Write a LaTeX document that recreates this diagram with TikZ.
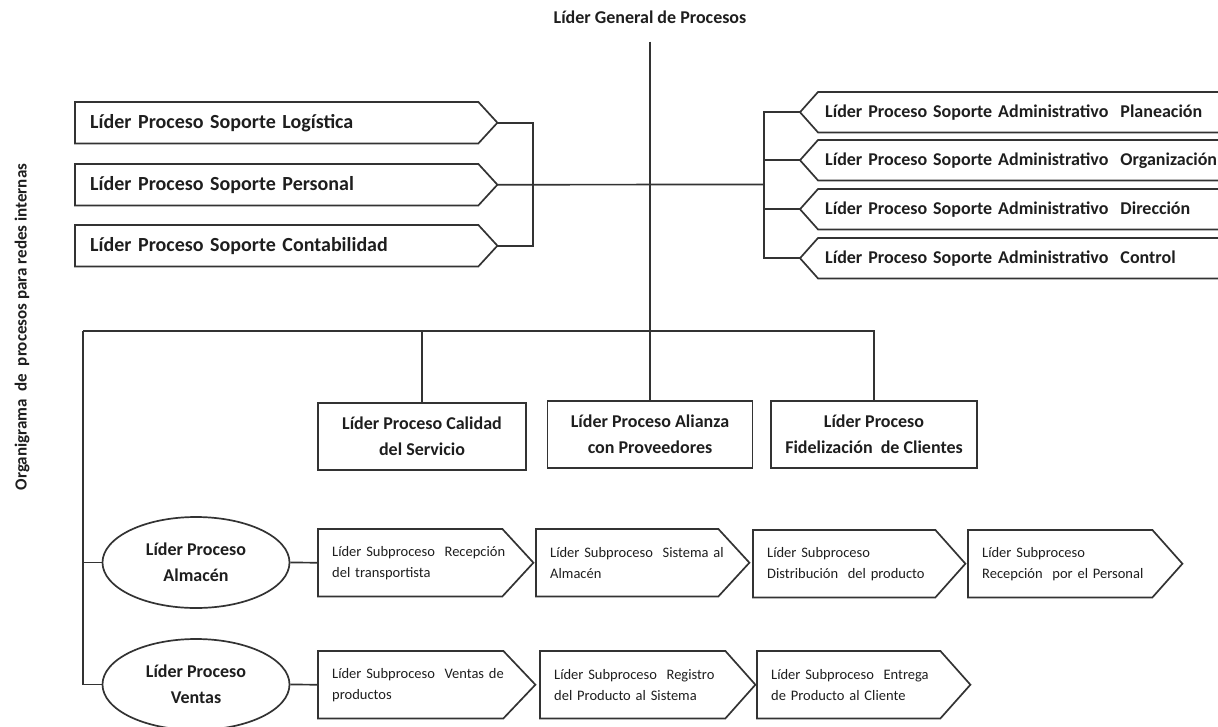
\documentclass[tikz,border=0pt]{standalone}
\usepackage{fontspec}
\setmainfont{Carlito}
\usetikzlibrary{calc,shapes.geometric}
\definecolor{lc}{HTML}{333333}
\definecolor{tc}{HTML}{1E1E1E}
\newcommand\rsigout[2]{\draw[bx] (#1.north west) -- ($(#1.north east)+(-#2,0)$) -- (#1.east) -- ($(#1.south east)+(-#2,0)$) -- (#1.south west) -- cycle;}
\newcommand\lsigout[2]{\draw[bx] (#1.north east) -- ($(#1.north west)+(#2,0)$) -- (#1.west) -- ($(#1.south west)+(#2,0)$) -- (#1.south east) -- cycle;}
\begin{document}
\begin{tikzpicture}[x=1pt,y=-1pt,
  ln/.style={draw=lc, line width=1.7pt},
  bx/.style={draw=lc, line width=1.7pt, line join=miter},
  tfont/.style={font=\fontsize{18}{22}\selectfont\bfseries, text=tc, inner sep=0pt},
  lsig/.style={inner xsep=15pt, inner ysep=0pt, anchor=north west, align=left, text=tc, font=\fontsize{20}{24}\selectfont\bfseries},
  rsig/.style={inner xsep=25pt, inner ysep=0pt, anchor=north west, align=left, text=tc, font=\fontsize{18}{22}\selectfont\bfseries, minimum height=40pt, text width=400pt},
  mbox/.style={bx, inner sep=0pt, align=center, text=tc, font=\fontsize{18}{26}\selectfont\bfseries, minimum height=67pt},
  ell/.style={bx, ellipse, inner sep=0pt, align=center, text=tc, font=\fontsize{18}{26}\selectfont\bfseries, minimum width=187pt, minimum height=91pt},
  ssig/.style={inner xsep=14pt, inner ysep=0pt, anchor=north west, align=left, text=tc, font=\fontsize{14.5}{21}\selectfont, minimum height=67pt}
]
\useasboundingbox (0,0) rectangle (1218,726);
\clip (0,0) rectangle (1218,726);

% title and side label
\node[tfont] (g) at (650,17) {Líder General de Procesos};
\node[rotate=90, font=\fontsize{17}{20}\selectfont\bfseries, text=tc] (vt) at (22,327) {Organigrama\ \ de\ \ procesos para redes internas};

% left support boxes
\node[lsig, minimum height=41pt, text width=392pt] (sl) at (75,102) {Líder Proceso Soporte Logística};
\node[lsig, minimum height=41pt, text width=392pt] (sp) at (75,164) {Líder Proceso Soporte Personal};
\node[lsig, minimum height=41pt, text width=392pt] (sc) at (75,225) {Líder Proceso Soporte Contabilidad};
\rsigout{sl}{19}\rsigout{sp}{19}\rsigout{sc}{19}

% right admin boxes
\node[rsig] (ra) at (800,92) {Líder Proceso Soporte Administrativo\ \ Planeación};
\node[rsig] (rb) at (800,140) {Líder Proceso Soporte Administrativo\ \ Organización};
\node[rsig] (rc) at (800,189) {Líder Proceso Soporte Administrativo\ \ Dirección};
\node[rsig] (rd) at (800,238) {Líder Proceso Soporte Administrativo\ \ Control};
\lsigout{ra}{18}\lsigout{rb}{18}\lsigout{rc}{18}\lsigout{rd}{18}

% brackets
\coordinate (lbx) at (533,184.5);
\coordinate (rbx) at (764,184.5);
\draw[ln] (sl.east) -| (lbx) |- (sc.east);
\draw[ln] (sp.east) -- (rbx);
\draw[ln] (ra.west) -| (rbx) |- (rd.west);
\draw[ln] (rb.west) -| (rbx);
\draw[ln] (rc.west) -| (rbx);

% middle boxes
\node[mbox, minimum width=208pt] (m1) at (422,436.5) {Líder Proceso Calidad\\del Servicio};
\node[mbox, minimum width=205pt] (m2) at (650,434.5) {Líder Proceso Alianza\\con Proveedores};
\node[mbox, minimum width=206pt] (m3) at (874,434.5) {Líder Proceso\\Fidelización\ \ de Clientes};

\draw[ln, shorten <=18pt] (g.south) -- (m2.north);
\coordinate (hl) at (83,331);
\draw[ln] (m3.north) |- (hl);
\draw[ln] (m1.north) -- (m1.north |- hl);

% process ellipses
\node[ell] (va) at (196,562.5) {Líder Proceso\\Almacén};
\node[ell] (vb) at (196,684.5) {Líder Proceso\\Ventas};
\draw[ln] (hl) |- (vb.west);
\draw[ln] (hl |- va.west) -- (va.west);

% subprocess row 1
\node[ssig, text width=187pt] (b1) at (318,529) {\mbox{Líder Subproceso\ \ Recepción}\\\mbox{del transportista}};
\node[ssig, text width=185pt] (b2) at (536,529) {\mbox{Líder Subproceso\ \ Sistema al}\\\mbox{Almacén}};
\node[ssig, text width=184pt] (b3) at (753,530) {\mbox{Líder Subproceso}\\\mbox{Distribución\ \ del producto}};
\node[ssig, text width=186pt] (b4) at (968,530) {\mbox{Líder Subproceso}\\\mbox{Recepción\ \ por el Personal}};
\rsigout{b1}{31}\rsigout{b2}{31}\rsigout{b3}{30}\rsigout{b4}{30}
\draw[ln] (va.east) -- (b1.west);

% subprocess row 2
\node[ssig, text width=189pt] (c1) at (318,651) {\mbox{Líder Subproceso\ \ Ventas de}\\\mbox{productos}};
\node[ssig, text width=187pt] (c2) at (540,651) {\mbox{Líder Subproceso\ \ Registro}\\\mbox{del Producto al Sistema}};
\node[ssig, text width=185pt] (c3) at (757,651) {\mbox{Líder Subproceso\ \ Entrega}\\\mbox{de Producto al Cliente}};
\rsigout{c1}{32}\rsigout{c2}{30}\rsigout{c3}{30}
\draw[ln] (vb.east) -- (c1.west);
\end{tikzpicture}
\end{document}
